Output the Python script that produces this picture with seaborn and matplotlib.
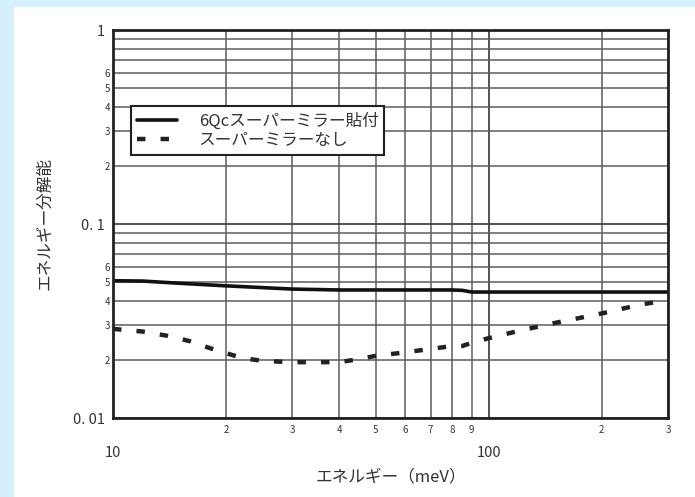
import matplotlib
matplotlib.use("Agg")
import matplotlib.pyplot as plt
import matplotlib.ticker as mticker
from matplotlib.patches import Rectangle
import pandas as pd
import seaborn as sns

# energy (meV) and resolution
energy_coated = [10, 12, 15, 20, 30, 40, 60, 80, 85, 90, 100, 200, 300]
res_coated = [0.0510, 0.0508, 0.0495, 0.0480, 0.0462, 0.0457, 0.0457, 0.0457,
              0.0455, 0.0446, 0.0446, 0.0446, 0.0446]

energy_bare = [10, 12, 14, 16, 18, 20, 22, 25, 30, 40, 45, 50, 60, 70, 80, 85,
               90, 100, 120, 150, 200, 250, 300]
res_bare = [0.0288, 0.0279, 0.0265, 0.0249, 0.0230, 0.0216, 0.0204, 0.0197,
            0.0194, 0.0194, 0.0201, 0.0209, 0.0218, 0.0227, 0.0235, 0.0235,
            0.0244, 0.0258, 0.0281, 0.0309, 0.0346, 0.0382, 0.0406]

label_coated = "6Qcスーパーミラー貼付"
label_bare = "スーパーミラーなし"

df_coated = pd.DataFrame({"energy": energy_coated, "res": res_coated})
df_bare = pd.DataFrame({"energy": energy_bare, "res": res_bare})

sns.set_theme(style="white")
plt.rcParams["font.family"] = ["Noto Sans CJK JP", "DejaVu Sans"]

fig = plt.figure(figsize=(6.95, 4.97), dpi=100)
fig.patch.set_facecolor("#d5effc")
fig.add_artist(Rectangle((14 / 695, 0), 1 - 14 / 695, 490 / 497,
                         transform=fig.transFigure, facecolor="white",
                         edgecolor="none", zorder=0))

ax = fig.add_axes([113 / 695, 79 / 497, 555 / 695, 388 / 497])
ax.set_facecolor("white")

sns.lineplot(data=df_coated, x="energy", y="res", ax=ax, color="#111111",
             linewidth=2.6, label=label_coated)
sns.lineplot(data=df_bare, x="energy", y="res", ax=ax, color="#222222",
             linewidth=3.2, linestyle=(0, (1.9, 3.4)), label=label_bare)

ax.set_xscale("log")
ax.set_yscale("log")
ax.set_xlim(10, 300)
ax.set_ylim(0.01, 1)

# grid on major and minor ticks
ax.grid(True, which="major", color="#444444", linewidth=1.3)
ax.grid(True, which="minor", color="#5e5e5e", linewidth=1.1)
ax.set_axisbelow(True)

ax.xaxis.set_major_locator(mticker.FixedLocator([10, 100]))
ax.xaxis.set_major_formatter(mticker.FixedFormatter(["10", "100"]))
xminor = [20, 30, 40, 50, 60, 70, 80, 90, 200, 300]
ax.xaxis.set_minor_locator(mticker.FixedLocator(xminor))
ax.xaxis.set_minor_formatter(mticker.FixedFormatter(
    ["2", "3", "4", "5", "6", "7", "8", "9", "2", "3"]))

ax.yaxis.set_major_locator(mticker.FixedLocator([0.01, 0.1, 1]))
ax.yaxis.set_major_formatter(mticker.FixedFormatter(["0. 01", "0. 1", "1"]))
yminor = [0.02, 0.03, 0.04, 0.05, 0.06, 0.07, 0.08, 0.09,
          0.2, 0.3, 0.4, 0.5, 0.6, 0.7, 0.8, 0.9]
ax.yaxis.set_minor_locator(mticker.FixedLocator(yminor))
ax.yaxis.set_minor_formatter(mticker.FixedFormatter(
    ["2", "3", "4", "5", "6", "", "", "",
     "2", "3", "4", "5", "6", "", "", ""]))

ax.tick_params(axis="x", which="major", length=0, pad=20, labelsize=10.5,
               labelcolor="#333333")
ax.tick_params(axis="x", which="minor", length=0, pad=5, labelsize=7,
               labelcolor="#333333")
ax.tick_params(axis="y", which="major", length=0, pad=6, labelsize=10.5,
               labelcolor="#333333")
ax.tick_params(axis="y", which="minor", length=0, pad=2, labelsize=7,
               labelcolor="#333333")

for side in ax.spines.values():
    side.set_color("#222222")
    side.set_linewidth(2.0)

ax.set_xlabel("エネルギー（meV）", fontsize=12, color="#333333", labelpad=6)
ax.set_ylabel("エネルギー分解能", fontsize=12, color="#333333", labelpad=14)

leg = ax.legend(loc="upper left", bbox_to_anchor=(0.018, 0.825), fontsize=12,
                frameon=True, fancybox=False, framealpha=1, handlelength=2.4,
                borderpad=0.35, labelspacing=0.15, handletextpad=1.3)
leg.get_frame().set_edgecolor("#222222")
leg.get_frame().set_linewidth(1.5)
for t in leg.get_texts():
    t.set_color("#333333")

fig.savefig("out.png", dpi=100, facecolor=fig.get_facecolor())
